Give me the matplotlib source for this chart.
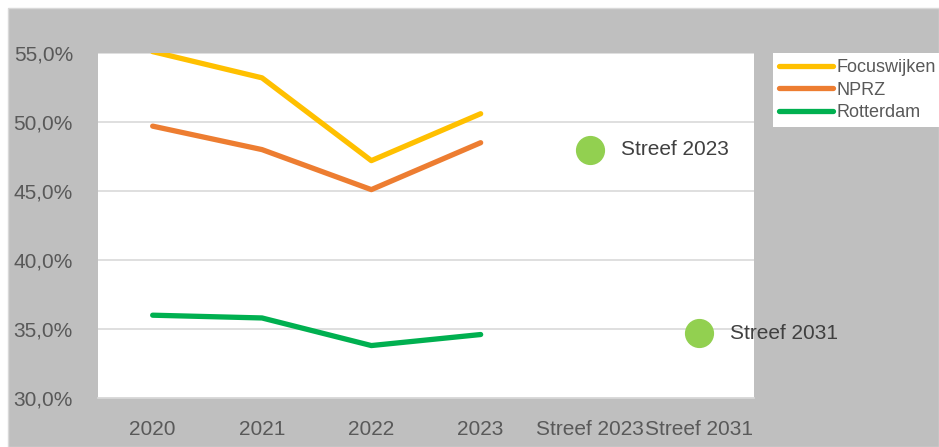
import matplotlib.pyplot as plt
from matplotlib.patches import Rectangle
from matplotlib.ticker import FuncFormatter

plt.rcParams['font.family'] = ['Liberation Sans', 'DejaVu Sans']

categories = ['2020', '2021', '2022', '2023', 'Streef 2023', 'Streef 2031']
focuswijken = [55.1, 53.2, 47.2, 50.6]
nprz = [49.7, 48.0, 45.1, 48.5]
rotterdam = [36.0, 35.8, 33.8, 34.6]
streef_labels = ['Streef 2023', 'Streef 2031']
streef_values = [48.0, 34.7]

text_grey = '#595959'

fig = plt.figure(figsize=(9.39, 4.47), dpi=100, facecolor='white')
# grey chart background
fig.patches.append(Rectangle((8 / 939, 0), 1 - 8 / 939, 1 - 8 / 447,
                             transform=fig.transFigure, facecolor='#bfbfbf',
                             edgecolor='#d9d9d9', linewidth=1, zorder=-1))

ax = fig.add_axes([98 / 939, 1 - 398 / 447, (754 - 98) / 939, (398 - 53) / 447])
ax.set_zorder(1)
ax.set_facecolor('white')

x = list(range(len(focuswijken)))
ax.plot(x, focuswijken, color='#ffc000', lw=3.8, solid_capstyle='round', label='Focuswijken')
ax.plot(x, nprz, color='#ed7d31', lw=3.8, solid_capstyle='round', label='NPRZ')
ax.plot(x, rotterdam, color='#00b050', lw=3.8, solid_capstyle='round', label='Rotterdam')

sx = [categories.index(s) for s in streef_labels]
ax.plot(sx, streef_values, linestyle='none', marker='o', markersize=20,
        color='#92d050', clip_on=False, zorder=5)
for xi, yi, lab in zip(sx, streef_values, streef_labels):
    ax.annotate(lab, (xi, yi), xytext=(22, 0), textcoords='offset points',
                ha='left', va='center', fontsize=15, color='#404040',
                annotation_clip=False, zorder=6)

ax.set_xlim(-0.5, len(categories) - 0.5)
ax.set_ylim(30, 55)
ax.set_xticks(range(len(categories)))
ax.set_xticklabels(categories)
ax.set_yticks([30, 35, 40, 45, 50, 55])
ax.yaxis.set_major_formatter(FuncFormatter(lambda v, p: f'{v:.1f}%'.replace('.', ',')))
ax.tick_params(axis='both', length=0, labelsize=15, labelcolor=text_grey)
ax.tick_params(axis='x', pad=16)
ax.tick_params(axis='y', pad=18)
ax.grid(axis='y', color='#d9d9d9', lw=1.2)
ax.set_axisbelow(True)
for side in ['left', 'right', 'top']:
    ax.spines[side].set_visible(False)
ax.spines['bottom'].set_color('#d9d9d9')
ax.spines['bottom'].set_linewidth(1.2)

leg = fig.legend(loc='upper left', bbox_to_anchor=(773 / 939, 1 - 53 / 447),
                 fontsize=13, frameon=True, fancybox=False, framealpha=1,
                 handlelength=3.0, handletextpad=0.15, labelspacing=0.3,
                 borderpad=0.35, borderaxespad=0)
leg.get_frame().set_facecolor('white')
leg.get_frame().set_edgecolor('white')
leg.get_frame().set_linewidth(0)
for t in leg.get_texts():
    t.set_color(text_grey)

fig.savefig('out.png', dpi=100, facecolor=fig.get_facecolor())
